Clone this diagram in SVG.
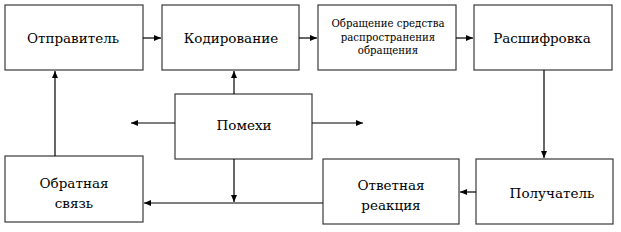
<svg xmlns="http://www.w3.org/2000/svg" width="621" height="232" viewBox="0 0 621 232">
<style>
.box{fill:#fff;stroke:#3a3a3a;stroke-width:1.2}
text{font-family:'DejaVu Serif','Liberation Serif',serif;font-size:13.5px;fill:#000;text-anchor:middle}
.s{font-size:10.2px}
.c{stroke:#000;stroke-width:1.2;fill:none}
</style>
<defs>
<marker id="a" markerWidth="8" markerHeight="8" refX="7" refY="4" orient="auto" markerUnits="userSpaceOnUse">
<path d="M0,1 L7,4 L0,7 Z" fill="#000"/>
</marker>
</defs>
<rect width="621" height="232" fill="#fff"/>
<g id="n-sender"><rect class="box" x="5" y="5" width="138" height="65"/><text x="73" y="43">Отправитель</text></g>
<g id="n-encode"><rect class="box" x="162" y="5" width="137" height="65"/><text x="231" y="43">Кодирование</text></g>
<g id="n-channel"><rect class="box" x="318" y="5" width="138" height="65"/><text class="s" x="388" y="27">Обращение средства</text><text class="s" x="388" y="40.5">распространения</text><text class="s" x="388" y="54">обращения</text></g>
<g id="n-decode"><rect class="box" x="474" y="5" width="138" height="65"/><text x="542" y="43">Расшифровка</text></g>
<g id="n-noise"><rect class="box" x="175" y="94" width="137" height="65"/><text x="244" y="130">Помехи</text></g>
<g id="n-feedback"><rect class="box" x="5" y="156" width="138" height="66"/><text x="74" y="188">Обратная</text><text x="74" y="208">связь</text></g>
<g id="n-response"><rect class="box" x="323" y="159" width="136" height="65"/><text x="391" y="190">Ответная</text><text x="391" y="210">реакция</text></g>
<g id="n-receiver"><rect class="box" x="476" y="159" width="137" height="65"/><text x="552" y="198">Получатель</text></g>
<g id="connectors">
<line class="c" x1="143" y1="38" x2="161" y2="38" marker-end="url(#a)"/>
<line class="c" x1="299" y1="38" x2="317" y2="38" marker-end="url(#a)"/>
<line class="c" x1="456" y1="38" x2="473" y2="38" marker-end="url(#a)"/>
<line class="c" x1="544" y1="70" x2="544" y2="158" marker-end="url(#a)"/>
<line class="c" x1="476" y1="192" x2="460" y2="192" marker-end="url(#a)"/>
<line class="c" x1="323" y1="203" x2="144" y2="203" marker-end="url(#a)"/>
<line class="c" x1="55" y1="156" x2="55" y2="71" marker-end="url(#a)"/>
<line class="c" x1="234" y1="94" x2="234" y2="71" marker-end="url(#a)"/>
<line class="c" x1="234" y1="159" x2="234" y2="202" marker-end="url(#a)"/>
<line class="c" x1="175" y1="123" x2="131" y2="123" marker-end="url(#a)"/>
<line class="c" x1="312" y1="123" x2="363" y2="123" marker-end="url(#a)"/>
</g>
</svg>
